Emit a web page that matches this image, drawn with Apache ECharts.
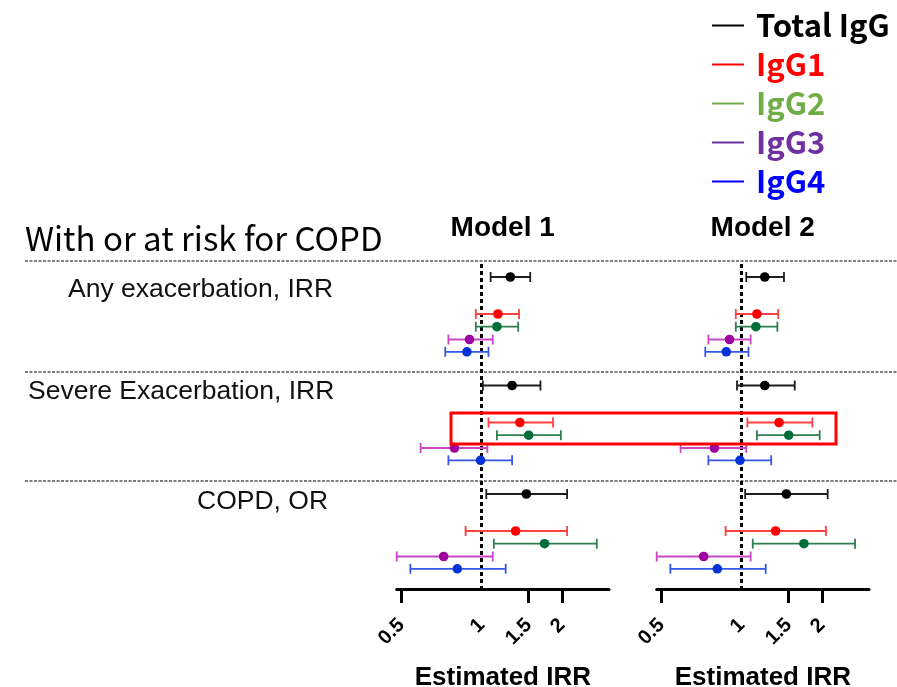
<!DOCTYPE html>
<html><head><meta charset="utf-8">
<script src="https://cdn.jsdelivr.net/npm/echarts@6/dist/echarts.min.js"></script>
<style>html,body{margin:0;padding:0;background:#fff}#c{width:897px;height:687px}</style>
</head><body><div id="c"></div>
<script>
// ---------- data ----------
const subclasses = ['Total IgG', 'IgG1', 'IgG2', 'IgG3', 'IgG4'];
const outcomes = ['Any exacerbation, IRR', 'Severe Exacerbation, IRR', 'COPD, OR'];
const models = ['Model 1', 'Model 2'];
const tickLabelValues = [0.5, 1, 1.5, 2];
const tickMarkValues = [0.5, 1.5, 2];
const axisRange = [0.48, 3];
const axisTitle = 'Estimated IRR';
const sectionTitle = 'With or at risk for COPD';

// [estimate, lower, upper] for each outcome (Any, Severe, COPD)
const m1Total = [[1.28, 1.08, 1.52], [1.30, 1.01, 1.66], [1.47, 1.04, 2.09]];
const m1IgG1  = [[1.15, 0.95, 1.38], [1.39, 1.06, 1.85], [1.34, 0.87, 2.09]];
const m1IgG2  = [[1.14, 0.95, 1.37], [1.50, 1.14, 1.98], [1.72, 1.11, 2.70]];
const m1IgG3  = [[0.90, 0.75, 1.10], [0.79, 0.59, 1.05], [0.72, 0.48, 1.10]];
const m1IgG4  = [[0.88, 0.73, 1.06], [0.99, 0.75, 1.30], [0.81, 0.54, 1.23]];

const m2Total = [[1.22, 1.04, 1.44], [1.22, 0.96, 1.58], [1.47, 1.03, 2.10]];
const m2IgG1  = [[1.14, 0.95, 1.37], [1.38, 1.05, 1.84], [1.34, 0.87, 2.07]];
const m2IgG2  = [[1.13, 0.95, 1.36], [1.50, 1.14, 1.96], [1.71, 1.10, 2.66]];
const m2IgG3  = [[0.90, 0.75, 1.08], [0.79, 0.59, 1.04], [0.72, 0.48, 1.08]];
const m2IgG4  = [[0.875, 0.73, 1.06], [0.985, 0.75, 1.29], [0.81, 0.54, 1.23]];

const modelData = [
  [m1Total, m1IgG1, m1IgG2, m1IgG3, m1IgG4],
  [m2Total, m2IgG1, m2IgG2, m2IgG3, m2IgG4]
];

// ---------- layout & style ----------
const rowOffset = [0, 37, 49.7, 62.5, 74.8];
const groupBase = [27, 135.5, 244];
const sepRows = [11, 122, 231];
const refLineRange = [14, 339];
const labelLeft = [68, 28, 197];
const labelTop = [290, 392, 502];
const pointColors = ['#000000', '#ff0000', '#006e38', '#a000a0', '#0032d8'];
const barColors = ['#1e1e1e', '#ff4040', '#2f7f50', '#c848c8', '#3458e8'];
const legendColors = ['#000000', '#ff0000', '#70ad47', '#7030a0', '#0000ff'];

const L2 = v => Math.log2(v);

function makeRender(i) {
  return function (params, api) {
    const y = api.value(3);
    const c = api.coord([api.value(0), y]);
    const lo = api.coord([api.value(1), y]);
    const hi = api.coord([api.value(2), y]);
    const ls = { stroke: barColors[i], lineWidth: 1.8 };
    return {
      type: 'group',
      children: [
        { type: 'line', shape: { x1: lo[0], y1: lo[1], x2: hi[0], y2: hi[1] }, style: ls },
        { type: 'line', shape: { x1: lo[0], y1: lo[1] - 5, x2: lo[0], y2: lo[1] + 5 }, style: ls },
        { type: 'line', shape: { x1: hi[0], y1: hi[1] - 5, x2: hi[0], y2: hi[1] + 5 }, style: ls },
        { type: 'circle', shape: { cx: c[0], cy: c[1], r: 4.8 }, style: { fill: pointColors[i] } }
      ]
    };
  };
}

const gridLefts = [396.7, 656.7];
const grids = gridLefts.map(l => ({ left: l, width: 212.3, top: 250, height: 339,
  outerBoundsMode: 'none', containLabel: false }));

const xAxes = models.map((m, k) => ({
  type: 'value', gridIndex: k, position: 'bottom',
  min: L2(axisRange[0]), max: L2(axisRange[1]),
  splitLine: { show: false },
  axisLine: { show: true, onZero: false, lineStyle: { color: '#000', width: 3 } },
  axisTick: { show: true, customValues: tickMarkValues.map(L2), length: 14, inside: false,
              lineStyle: { color: '#000', width: 3 } },
  axisLabel: {
    customValues: tickLabelValues.map(L2), rotate: 45, margin: 33,
    fontSize: 20, fontWeight: 'bold', fontFamily: '"Liberation Sans", Arial, sans-serif', color: '#000',
    formatter: v => String(Math.round(Math.pow(2, v) * 10) / 10)
  },
  name: axisTitle, nameLocation: 'middle', nameGap: 76, nameMoveOverlap: false,
  nameTextStyle: { fontSize: 26, fontWeight: 'bold', fontFamily: '"Liberation Sans", Arial, sans-serif', color: '#000' }
}));

const yAxes = models.map((m, k) => ({
  type: 'value', gridIndex: k, min: 0, max: 339, inverse: true, show: false
}));

const series = [];
models.forEach((m, k) => {
  subclasses.forEach((name, i) => {
    const data = modelData[k][i].map((d, g) =>
      [L2(d[0]), L2(d[1]), L2(d[2]), groupBase[g] + rowOffset[i]]);
    const s = {
      type: 'custom', name: name, xAxisIndex: k, yAxisIndex: k,
      renderItem: makeRender(i), data: data,
      encode: { x: [0, 1, 2], y: 3 }, silent: true, z: 5
    };
    if (i === 0) {
      s.markLine = {
        silent: true, symbol: 'none', label: { show: false }, z: 3,
        lineStyle: { color: '#000', width: 3, type: [4, 3] },
        data: [[{ coord: [0, refLineRange[0]] }, { coord: [0, refLineRange[1]] }]]
      };
    }
    series.push(s);
  });
});

const chart = echarts.init(document.getElementById('c'));
chart.setOption({
  animation: false,
  backgroundColor: '#fff',
  grid: grids, xAxis: xAxes, yAxis: yAxes, series: series,
  legend: {
    orient: 'vertical', left: 707, top: 5, itemWidth: 32, itemHeight: 2, itemGap: 8,
    selectedMode: false,
    data: subclasses.map((n, i) => ({
      name: n, icon: 'rect', itemStyle: { color: legendColors[i] },
      textStyle: { color: legendColors[i] }
    })),
    textStyle: { fontSize: 31, fontWeight: 'bold', fontFamily: '"Noto Sans CJK KR", sans-serif',
                 lineHeight: 30, padding: [0, 0, 0, 7] }
  }
});

// annotation graphics
const sepPix = sepRows.map(v => chart.convertToPixel({ yAxisIndex: 0 }, v));
const gfx = [];
sepPix.forEach(y => gfx.push({
  type: 'line', shape: { x1: 25, y1: y, x2: 897, y2: y },
  style: { stroke: '#555', lineWidth: 1.5, lineDash: [3, 1.5] }, silent: true
}));
gfx.push({ type: 'text', x: 25, y: 238, style: { text: sectionTitle, fontSize: 33,
  fontFamily: '"Noto Sans CJK KR", sans-serif', fill: '#000', verticalAlign: 'middle' } });
models.forEach((m, k) => {
  gfx.push({ type: 'text', x: gridLefts[k] + 106, y: 228, style: { text: m, fontSize: 28, fontWeight: 'bold',
    fontFamily: '"Liberation Sans", Arial, sans-serif', fill: '#000', align: 'center', verticalAlign: 'middle' } });
});
outcomes.forEach((o, g) => {
  gfx.push({ type: 'text', x: labelLeft[g], y: labelTop[g], style: { text: o, fontSize: 26.5,
    fontFamily: '"Liberation Sans", Arial, sans-serif', fill: '#111', verticalAlign: 'middle' } });
});
gfx.push({ type: 'rect', shape: { x: 451, y: 413, width: 385, height: 31 },
  style: { fill: 'none', stroke: '#ff0000', lineWidth: 3 }, z: 10, silent: true });
chart.setOption({ graphic: gfx });
</script>
</body></html>
